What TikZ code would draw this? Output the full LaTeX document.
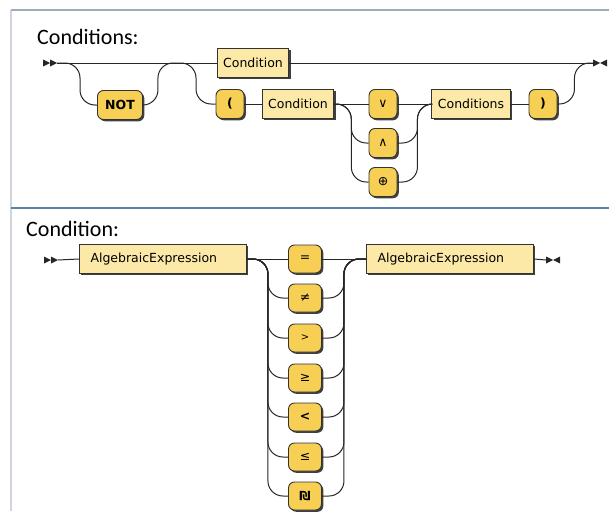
\documentclass[tikz,border=0pt]{standalone}
\usepackage{fontspec}
\newfontfamily\railfont{DejaVu Sans}
\newfontfamily\headfont{Carlito}
\usetikzlibrary{shadows}

\definecolor{termfill}{HTML}{F7CF55}
\definecolor{ntermfill}{HTML}{FCE9A8}
\definecolor{framegray}{HTML}{9DADB8}
\definecolor{frameblue}{HTML}{5B83AA}
\definecolor{framelav}{HTML}{D2D2E2}

\begin{document}
\begin{tikzpicture}[x=1pt, y=-1pt]
  \useasboundingbox (0,0) rectangle (609,511);

  \tikzset{nterm/.style={rectangle,draw=black!80,fill=ntermfill,line width=0.9pt,
      minimum height=29pt,inner xsep=6pt,font=\railfont\fontsize{12.5}{14}\selectfont,
      drop shadow={shadow xshift=1.8pt,shadow yshift=-1.8pt,fill=black!75,opacity=1}}}
  \tikzset{term/.style={nterm,fill=termfill,rounded corners=6pt,minimum width=28pt,inner xsep=4pt}}
  \tikzset{opterm/.style={term,minimum width=33pt,minimum height=28pt}}
  \tikzset{expr/.style={text width=145pt,inner xsep=11pt,align=left}}
  \tikzset{rail/.style={draw=black!85,line width=1pt,rounded corners=15pt}}
  \tikzset{head/.style={anchor=base west,inner sep=0pt,font=\headfont\fontsize{22}{26}\selectfont}}

  % frames
  \draw[framelav, line width=1.2pt] (11,10) -- (11,511);
  \draw[framegray, line width=1.2pt] (11,10) -- (609,10);
  \draw[frameblue, line width=1.6pt] (11,208) -- (609,208);

  \path (37,45) node[head] {Conditions:}
        (26,236) node[head] {Condition:};

  % Conditions
  \coordinate (s1) at (57,63);
  \coordinate (e1) at (593,63);
  \coordinate (notjoin) at (174,63);
  \path
    (253,63) node[nterm](cond1) {Condition}
    (120,105) node[term,minimum width=45pt](notbox) {\bfseries NOT}
    (230,104) node[term](lpar) {\bfseries (}
    (298,104) node[nterm](cond2) {Condition}
    (383,104) node[term](orbox) {∨}
    (383,143) node[term](andbox) {∧}
    (383,182) node[term](xorbox) {⊕}
    (471,104) node[nterm](conds) {Conditions}
    (543,104) node[term](rpar) {\bfseries )}
  ;

  \draw[rail] (s1) -- (cond1.west);
  \draw[rail] (cond1.east) -- (e1);
  \draw[rail] (s1) -- ++(23,0) |- (notbox.west);
  \draw[rail] (notbox.east) -- ++(15,0) |- (notjoin);
  \draw[rail] (notjoin) -- ++(22,0) |- (lpar.west);
  \draw[rail] (lpar.east) -- (cond2.west);
  \draw[rail] (cond2.east) -- (orbox.west);
  \draw[rail] (cond2.east) -- ++(17,0) |- (andbox.west);
  \draw[rail] (cond2.east) -- ++(17,0) |- (xorbox.west);
  \draw[rail] (orbox.east) -- (conds.west);
  \draw[rail] (andbox.east) -- ++(20,0) |- (conds.west);
  \draw[rail] (xorbox.east) -- ++(20,0) |- (conds.west);
  \draw[rail] (conds.east) -- (rpar.west);
  \draw[rail] (rpar.east) -- ++(17,0) |- (e1);

  \fill[black!85] (s1) -- ++(-7,-3.5) -- ++(0,7) -- cycle
                  (50,63) -- ++(-7,-3.5) -- ++(0,7) -- cycle;
  \fill[black!85] (e1) ++(7,0) -- ++(-7,-3.5) -- ++(0,7) -- cycle
                  (e1) ++(7,0) -- ++(7,-3.5) -- ++(0,7) -- cycle;

  % Condition
  \coordinate (s2) at (58,260);
  \coordinate (e2) at (546,260);
  \path
    (163,259) node[nterm,expr](ae1) {AlgebraicExpression}
    (450,259) node[nterm,expr](ae2) {AlgebraicExpression}
    (305,259) node[opterm](eq) {=}
    (305,298) node[opterm](neq) {≠}
    (305,338) node[opterm](gt) {\fontsize{10}{11}\selectfont >}
    (305,378) node[opterm](geq) {≥}
    (305,417) node[opterm](lt) {\bfseries <}
    (305,457) node[opterm](leq) {≤}
    (305,496) node[opterm](shk) {\bfseries ₪}
  ;

  \draw[rail] (s2) -- (ae1.west);
  \draw[rail] (ae1.east) -- (eq.west);
  \draw[rail] (eq.east) -- (ae2.west);
  \draw[rail] (ae2.east) -- (e2);
  \draw[rail] (ae1.east) -- ++(21,0) |- (neq.west);
  \draw[rail] (ae1.east) -- ++(21,0) |- (gt.west);
  \draw[rail] (ae1.east) -- ++(21,0) |- (geq.west);
  \draw[rail] (ae1.east) -- ++(21,0) |- (lt.west);
  \draw[rail] (ae1.east) -- ++(21,0) |- (leq.west);
  \draw[rail] (ae1.east) -- ++(21,0) |- (shk.west);
  \draw[rail] (neq.east) -- ++(22,0) |- (ae2.west);
  \draw[rail] (gt.east) -- ++(22,0) |- (ae2.west);
  \draw[rail] (geq.east) -- ++(22,0) |- (ae2.west);
  \draw[rail] (lt.east) -- ++(22,0) |- (ae2.west);
  \draw[rail] (leq.east) -- ++(22,0) |- (ae2.west);
  \draw[rail] (shk.east) -- ++(22,0) |- (ae2.west);

  \fill[black!85] (s2) -- ++(-7,-3.5) -- ++(0,7) -- cycle
                  (51,260) -- ++(-7,-3.5) -- ++(0,7) -- cycle;
  \fill[black!85] (e2) ++(7,0) -- ++(-7,-3.5) -- ++(0,7) -- cycle
                  (e2) ++(7,0) -- ++(7,-3.5) -- ++(0,7) -- cycle;

\end{tikzpicture}
\end{document}
